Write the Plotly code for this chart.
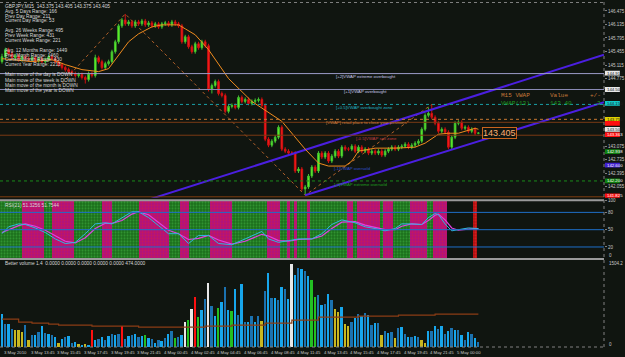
import plotly.graph_objects as go

# ---------------- DATA ----------------
opens = [
145.20, 145.325, 145.50, 145.40, 145.30, 145.35, 145.25, 145.325,
145.275, 145.25, 145.30, 145.225, 145.275, 145.20, 145.25, 145.325,
145.275, 145.20, 145.125, 145.05, 145.00, 144.95, 144.90, 144.85,
144.875, 144.80, 144.75, 144.90, 144.85, 145.30, 145.20, 145.05,
145.15, 145.20, 145.45, 145.70, 146.10, 146.25, 146.15, 146.20,
146.10, 146.20, 146.15, 146.225, 146.125, 146.175, 146.10, 146.15,
146.075, 146.15, 146.175, 146.125, 146.20, 146.15, 146.10, 145.70,
145.825, 145.575, 145.45, 145.65, 145.55, 145.70, 145.60, 144.50,
144.60, 144.70, 144.40, 144.35, 143.95, 144.075, 144.10, 144.05,
144.30, 144.20, 144.25, 144.15, 144.20, 144.225, 144.25, 144.10,
143.25, 143.10, 143.20, 143.30, 143.55, 143.00, 142.95, 142.90,
142.90, 142.45, 142.50, 142.00, 142.05, 142.325, 142.55, 142.45,
142.90, 142.80, 142.90, 142.70, 142.825, 142.95, 142.825, 143.05,
143.00, 143.00, 143.075, 142.95, 143.05, 142.95, 143.00, 142.90,
142.95, 142.90, 142.95, 142.85, 142.95, 143.00, 143.05, 143.00,
143.05, 143.075, 143.125, 143.05, 143.10, 143.15, 143.20, 143.50,
143.85, 143.90, 143.80, 143.65, 143.45, 143.50, 143.425, 143.05,
143.30, 143.65, 143.675, 143.525, 143.55, 143.45, 143.50, 143.40]
closes = [
145.325, 145.50, 145.40, 145.30, 145.35, 145.25, 145.325, 145.275,
145.25, 145.30, 145.225, 145.275, 145.20, 145.25, 145.325, 145.275,
145.20, 145.125, 145.05, 145.00, 144.95, 144.90, 144.85, 144.875,
144.80, 144.75, 144.90, 144.85, 145.30, 145.20, 145.05, 145.15,
145.20, 145.45, 145.70, 146.10, 146.25, 146.15, 146.20, 146.10,
146.20, 146.15, 146.225, 146.125, 146.175, 146.10, 146.15, 146.075,
146.15, 146.175, 146.125, 146.20, 146.15, 146.10, 145.70, 145.825,
145.575, 145.45, 145.65, 145.55, 145.70, 145.60, 144.50, 144.60,
144.70, 144.40, 144.35, 143.95, 144.075, 144.10, 144.05, 144.30,
144.20, 144.25, 144.15, 144.20, 144.225, 144.25, 144.10, 143.25,
143.10, 143.20, 143.30, 143.55, 143.00, 142.95, 142.90, 142.90,
142.45, 142.50, 142.00, 142.05, 142.325, 142.55, 142.45, 142.90,
142.80, 142.90, 142.70, 142.825, 142.95, 142.825, 143.05, 143.00,
143.00, 143.075, 142.95, 143.05, 142.95, 143.00, 142.90, 142.95,
142.90, 142.95, 142.85, 142.95, 143.00, 143.05, 143.00, 143.05,
143.075, 143.125, 143.05, 143.10, 143.15, 143.20, 143.50, 143.85,
143.90, 143.80, 143.65, 143.45, 143.50, 143.425, 143.05, 143.30,
143.65, 143.675, 143.525, 143.55, 143.45, 143.50, 143.40, 143.405]
highs = [
145.40, 145.55, 145.55, 145.45, 145.40, 145.40, 145.375, 145.375,
145.325, 145.35, 145.35, 145.325, 145.325, 145.30, 145.375, 145.375,
145.325, 145.25, 145.175, 145.10, 145.05, 145.00, 144.95, 144.925,
144.925, 144.85, 144.95, 144.95, 145.375, 145.35, 145.25, 145.20,
145.25, 145.50, 145.75, 146.15, 146.30, 146.40, 146.25, 146.25,
146.25, 146.25, 146.275, 146.275, 146.225, 146.225, 146.20, 146.20,
146.20, 146.225, 146.225, 146.25, 146.25, 146.20, 146.15, 145.875,
145.875, 145.625, 145.70, 145.70, 145.75, 145.75, 145.65, 144.65,
144.75, 144.75, 144.45, 144.40, 144.125, 144.15, 144.15, 144.35,
144.35, 144.30, 144.30, 144.25, 144.275, 144.30, 144.30, 144.15,
143.30, 143.25, 143.35, 143.60, 143.60, 143.05, 143.00, 142.95,
142.95, 142.55, 142.55, 142.10, 142.375, 142.60, 142.60, 142.95,
142.95, 142.95, 142.95, 142.875, 143.00, 143.00, 143.10, 143.10,
143.05, 143.125, 143.125, 143.10, 143.10, 143.05, 143.05, 143.00,
143.00, 143.00, 143.00, 143.00, 143.05, 143.10, 143.10, 143.10,
143.125, 143.175, 143.175, 143.15, 143.20, 143.25, 143.55, 143.90,
144.05, 144.125, 143.85, 143.70, 143.55, 143.55, 143.475, 143.35,
143.70, 143.725, 143.725, 143.60, 143.60, 143.55, 143.55, 143.425]
lows = [
145.15, 145.275, 145.35, 145.25, 145.25, 145.20, 145.20, 145.225,
145.20, 145.20, 145.175, 145.175, 145.15, 145.15, 145.20, 145.225,
145.15, 145.075, 145.00, 144.95, 144.90, 144.85, 144.80, 144.80,
144.75, 144.65, 144.70, 144.80, 144.80, 145.15, 145.00, 145.00,
145.10, 145.15, 145.40, 145.65, 146.05, 146.10, 146.10, 146.05,
146.05, 146.10, 146.10, 146.075, 146.075, 146.05, 146.05, 146.025,
146.025, 146.10, 146.075, 146.075, 146.10, 146.05, 145.65, 145.65,
145.525, 145.40, 145.40, 145.50, 145.50, 145.55, 144.45, 144.40,
144.55, 144.35, 144.30, 143.90, 143.90, 144.025, 144.00, 144.00,
144.15, 144.15, 144.10, 144.10, 144.15, 144.175, 144.05, 143.20,
143.05, 143.05, 143.15, 143.25, 142.95, 142.90, 142.85, 142.85,
142.40, 142.40, 141.95, 141.84, 142.00, 142.275, 142.40, 142.40,
142.75, 142.75, 142.65, 142.65, 142.775, 142.775, 142.775, 142.95,
142.95, 142.95, 142.90, 142.90, 142.90, 142.90, 142.85, 142.85,
142.85, 142.85, 142.80, 142.80, 142.90, 142.95, 142.95, 142.95,
143.00, 143.025, 143.00, 143.00, 143.05, 143.10, 143.15, 143.45,
143.80, 143.75, 143.60, 143.40, 143.40, 143.375, 143.00, 143.00,
143.25, 143.60, 143.475, 143.475, 143.40, 143.40, 143.35, 143.375]
volume = [
584, 407, 407, 319, 301, 301, 265, 389,
124, 212, 212, 265, 372, 248, 230, 212,
177, 71, 142, 177, 195, 71, 89, 53,
35, 53, 35, 301, 124, 142, 177, 124,
195, 230, 212, 230, 372, 142, 195, 212,
230, 177, 195, 212, 159, 142, 71, 124,
106, 159, 230, 283, 159, 177, 212, 442,
478, 673, 885, 531, 655, 850, 1115, 726,
549, 690, 797, 1044, 655, 637, 1009, 566,
1097, 442, 442, 549, 442, 549, 460, 991,
1292, 867, 867, 832, 1044, 1009, 850, 1451,
1257, 1381, 1363, 1328, 1239, 1168, 885, 920,
743, 761, 938, 832, 673, 620, 708, 407,
372, 442, 513, 584, 549, 602, 566, 389,
425, 425, 212, 283, 248, 265, 159, 336,
354, 230, 177, 177, 195, 177, 124, 71,
283, 283, 372, 319, 372, 230, 283, 336,
301, 301, 212, 124, 265, 230, 159, 89]
vol_type = ("bdbdyyyd" "ydbdbdbd" "bybdbdby" "bybrbdbd" "bdbdrdbd" "bdbgbdbd"
            "bdbdgdbw" "gwrgbdwd" "bgbdbgbd" "bdbdbdyd" "bdbdbdbw" "bdbdbggd"
            "bdbdyyby" "ydbdbdbd" "bdydbdyd" "bdbdbdyy" "bdbdbdbd" "bdbdbdbd")

ma_idx = [0, 9, 15, 19, 24, 29, 32, 34, 36, 38, 41, 45, 48, 53, 55, 58, 62, 68, 75, 84,
          91, 95, 98, 103, 105, 107, 112, 118, 124, 127, 131, 134, 137, 142, 143]
ma_val = [145.275, 145.20, 145.25, 145.125, 145.00, 144.95, 145.025, 145.25, 145.50, 145.70,
          145.90, 146.075, 146.125, 146.125, 146.025, 145.875, 145.50, 144.775, 144.20, 143.70,
          143.00, 142.65, 142.575, 142.575, 142.70, 142.95, 143.025, 143.025, 143.05, 143.15,
          143.375, 143.40, 143.40, 143.525, 143.50]

zz_idx = [18, 37, 91, 129]
zz_val = [144.65, 146.40, 141.84, 144.125]

ch_up_idx = [44, 180.7]
ch_up_val = [141.73, 145.375]
ch_lo_idx = [91, 180.7]
ch_lo_val = [141.84, 144.18]

level_price = [144.90, 144.50, 144.125, 143.75, 143.675, 143.35, 142.20, 141.80]
box_price = [144.9125, 144.50, 144.15, 143.75, 143.65, 143.50, 143.3625, 142.9375, 142.60, 142.20, 141.825]
box_label = [True, True, True, True, False, True, True, True, True, True, True]

price_ticks = ["146.475", "146.135", "145.795", "145.455", "145.115", "144.775",
               "143.075", "142.735", "142.395", "142.055"]
osc_ticks = [20, 50, 80, 100]

osc_idx = [0, 2, 5, 7, 10, 13, 16, 19, 22, 25, 28, 31, 33, 36, 39, 41, 44, 47, 50, 53,
           56, 59, 62, 65, 69, 73, 78, 80, 83, 86, 89, 93, 96, 99, 102, 106, 109, 112, 115, 118,
           120, 123, 126, 128, 130, 131, 133, 135, 137, 140, 143]
osc_val = [43, 55, 60, 59, 53, 45, 34, 26, 28, 43, 60, 62, 60, 71, 81, 81, 71, 57, 43, 43,
           26, 40, 40, 26, 24, 34, 47, 34, 28, 31, 34, 34, 43, 59, 67, 62, 55, 52, 48, 52,
           60, 60, 59, 71, 78, 76, 60, 48, 50, 53, 52]
sig_val = [45, 50, 57, 60, 56, 49, 40, 30, 27, 36, 52, 61, 61, 66, 77, 81, 76, 63, 49, 43,
           33, 35, 40, 32, 25, 30, 42, 39, 31, 30, 33, 34, 39, 52, 63, 64, 58, 54, 50, 50,
           56, 60, 59, 66, 75, 77, 67, 53, 49, 51, 52]
osc_levels = [80, 50, 20]

band_start = [-0.5, 6, 12.5, 15, 21.5, 30, 33, 41, 50, 53.5, 56, 62.5, 69, 79.5, 83.5, 85.5,
              86.5, 87.5, 88.5, 91.5, 92.5, 103.5, 105.5, 106.5, 113.5, 114.5, 117.5, 122.5,
              127.5, 129.5, 141.5]
band_end = [6, 12.5, 15, 21.5, 30, 33, 41, 50, 53.5, 56, 62.5, 69, 79.5, 83.5, 85.5, 86.5,
            87.5, 88.5, 91.5, 92.5, 103.5, 105.5, 106.5, 113.5, 114.5, 117.5, 122.5, 127.5,
            129.5, 133.5, 142.5]
band_type = "gm" * 15 + "r"

avg_idx = [0, 5, 9, 14, 17, 27, 36, 41, 55, 61, 69, 79, 87, 95, 99, 107, 119, 130, 143]
avg_val = [484, 432, 415, 398, 380, 363, 363, 346, 346, 363, 380, 415, 467, 519, 519, 536, 553, 571, 571]

time_labels = ["3 May 2010", "3 May 13:45", "3 May 15:45", "3 May 17:45", "3 May 19:45",
               "3 May 21:45", "4 May 00:45", "4 May 02:45", "4 May 04:45", "4 May 06:45",
               "4 May 08:45", "4 May 11:45", "4 May 13:45", "4 May 15:45", "4 May 17:45",
               "4 May 19:45", "4 May 21:45", "5 May 00:00"]

info_lines = ["GBPJPY,M15  143.375 143.405 143.375 143.405", "Avg. 5 Days Range: 166",
              "Prev Day Range: 211", "Current Day Range: 53", "Avg. 26 Weeks Range: 495",
              "Prev Week Range: 431", "Current Week Range: 221", "Avg. 12 Months Range: 1449",
              "Prev Month Range: 1460", "Current Month Range: 430", "Current Year Range: 2213",
              "Main move of the day is DOWN", "Main move of the week is DOWN",
              "Main move of the month is DOWN", "Main move of the year is DOWN"]

# ---------------- LAYOUT GEOMETRY ----------------
W, H = 625, 357
MR, MB = 16, 10
PW, PH = W - MR, H - MB
BG = "#101510"


def xp(p):
    return p / PW


def yp(p):
    return 1 - p / PH


idx = list(range(len(closes)))
fig = go.Figure()

# oscillator bands
for kind, bg, fg in [("g", "#1c6e1c", "#48c048"), ("m", "#b0127e", "#e02030"), ("r", "#b01010", "#ff3030")]:
    xs = [(a + b) / 2 for a, b, t in zip(band_start, band_end, band_type) if t == kind]
    ws = [(b - a) for a, b, t in zip(band_start, band_end, band_type) if t == kind]
    fig.add_trace(go.Bar(x=xs, y=[100] * len(xs), width=ws, xaxis="x", yaxis="y2",
                         marker=dict(color=bg, line=dict(width=0),
                                     pattern=dict(shape=".", fgcolor=fg, fillmode="overlay",
                                                  size=3, solidity=0.35))))
fig.add_trace(go.Scatter(x=osc_idx, y=sig_val, mode="lines", xaxis="x", yaxis="y2",
                         line=dict(color="#e040e0", width=1.2)))
fig.add_trace(go.Scatter(x=osc_idx, y=osc_val, mode="lines", xaxis="x", yaxis="y2",
                         line=dict(color="#30b8e0", width=1)))

# volume
vcol = {"b": "#17a6ec", "d": "#1b72b0", "y": "#c8b820", "g": "#22c022", "r": "#ff1010", "w": "#e8e8e8"}
fig.add_trace(go.Bar(x=idx, y=volume, width=0.55, xaxis="x", yaxis="y3",
                     marker=dict(color=[vcol[t] for t in vol_type], line=dict(width=0))))
fig.add_trace(go.Scatter(x=avg_idx, y=avg_val, mode="lines", xaxis="x", yaxis="y3",
                         line=dict(color="#8a3c14", width=1.2, shape="hv")))

# main price panel
fig.add_trace(go.Scatter(x=zz_idx, y=zz_val, mode="lines", xaxis="x", yaxis="y",
                         line=dict(color="#b0602a", width=1, dash="dot")))
fig.add_trace(go.Scatter(x=ch_up_idx, y=ch_up_val, mode="lines", xaxis="x", yaxis="y",
                         line=dict(color="#4b1fe0", width=2)))
fig.add_trace(go.Scatter(x=ch_lo_idx, y=ch_lo_val, mode="lines", xaxis="x", yaxis="y",
                         line=dict(color="#4b1fe0", width=2)))
fig.add_trace(go.Candlestick(x=idx, open=opens, high=highs, low=lows, close=closes,
                             xaxis="x", yaxis="y", whiskerwidth=0,
                             increasing=dict(line=dict(color="#40c030", width=1), fillcolor="#6cff20"),
                             decreasing=dict(line=dict(color="#d01010", width=1), fillcolor="#ff2020")))
fig.add_trace(go.Scatter(x=ma_idx, y=ma_val, mode="lines", xaxis="x", yaxis="y",
                         line=dict(color="#f08c1e", width=1)))

shapes = []
level_style = [("#9c9cc8", "solid"), ("#8c8cb8", "solid"), ("#1aa0a8", "dot"), ("#c87a30", "dot"),
               ("#7a3a14", "solid"), ("#7a3a14", "solid"), ("#1a8a1a", "dot"), ("#8a4010", "solid")]
for pr, (c, d) in zip(level_price, level_style):
    shapes.append(dict(type="line", xref="paper", yref="y", x0=0, x1=1, y0=pr, y1=pr,
                       line=dict(color=c, width=1, dash=d)))
for lv in osc_levels:
    shapes.append(dict(type="line", xref="paper", yref="y2", x0=0, x1=1, y0=lv, y1=lv,
                       line=dict(color="#1e6fc8", width=1)))
# panel frames
for y0 in (199.5, 258.5):
    shapes.append(dict(type="line", xref="paper", yref="paper", x0=0, x1=1, y0=yp(y0), y1=yp(y0),
                       line=dict(color="#9a9a9a", width=2)))
shapes.append(dict(type="line", xref="paper", yref="paper", x0=0, x1=1, y0=yp(0.5), y1=yp(0.5),
                   line=dict(color="#808080", width=1, dash="dot")))
shapes.append(dict(type="line", xref="paper", yref="paper", x0=0, x1=1, y0=0, y1=0,
                   line=dict(color="#808080", width=1, dash="dot")))
shapes.append(dict(type="line", xref="paper", yref="paper", x0=1, x1=1, y0=0, y1=1,
                   line=dict(color="#808080", width=1, dash="dot")))

# right-axis price boxes
box_style = [("#e8e8e8", "#202020"), ("#e8e8e8", "#202020"), ("#10c8c8", "#202020"), ("#e0d000", "#202020"),
             ("#ff1010", "#ffffff"), ("#e8e8e8", "#202020"), ("#ff1010", "#ffffff"), ("#108010", "#ffffff"),
             ("#4020d0", "#ffffff"), ("#108010", "#ffffff"), ("#ff1010", "#ffffff")]
BOXH = 0.06  # price units (~2.4 px half-height)
for pr, (bgc, fc) in zip(box_price, box_style):
    shapes.append(dict(type="rect", xref="paper", yref="y", x0=1.0015, x1=1 + 16 / PW,
                       y0=pr - BOXH, y1=pr + BOXH, fillcolor=bgc, line=dict(width=0), layer="above"))

ann = []
F = "Liberation Sans"
for pr, (bgc, fc), lab in zip(box_price, box_style, box_label):
    if lab:
        ann.append(dict(text="%.3f" % pr, xref="paper", yref="y", x=1 + 1 / PW, y=pr, xanchor="left",
                        yanchor="middle", showarrow=False, font=dict(family=F, size=4.3, color=fc)))

line_y = [4.7, 9.5, 14.2, 19, 28.7, 33.7, 38.7, 48.7, 53.5, 58.3, 63.3, 73.3, 79, 84.3, 89.3]
for t, ly in zip(info_lines, line_y):
    ann.append(dict(text=t, xref="paper", yref="paper", x=xp(3), y=yp(ly), xanchor="left",
                    yanchor="middle", showarrow=False, font=dict(family=F, size=4.8, color="#d8d8d8")))

lvl_text = [("[+2]VWAP extreme overbought", 337, 74.5, "#c8c8e8"),
            ("[+1]VWAP overbought", 345, 90.5, "#c8c8e8"),
            ("[+0.5]VWAP overbought zone", 337, 106, "#20b0c0"),
            ("[VWAP] retail place to close your positions", 327, 121.5, "#d08040"),
            ("[-0.5]VWAP sell zone", 357, 137.5, "#c04040"),
            ("[-1]VWAP oversold", 335, 167.5, "#3050d0"),
            ("[-2]VWAP extreme oversold", 335, 183.5, "#20a020")]
for t, x0, y0, c in lvl_text:
    ann.append(dict(text=t, xref="paper", yref="paper", x=xp(x0), y=yp(y0), xanchor="left",
                    yanchor="middle", showarrow=False, font=dict(family=F, size=4.3, color=c)))

M = "Liberation Mono"
for t, x0, y0, c in [("M15 VWAP", 503, 94, "#c87a3a"), ("Value", 553, 94, "#c87a3a"), ("+/-", 593, 94, "#c87a3a"),
                     ("VWAP(13)", 503, 102, "#1e9a1e"), ("143.40", 553, 102, "#1e9a1e"), ("3", 600, 102, "#1e9a1e")]:
    ann.append(dict(text=t, xref="paper", yref="paper", x=xp(x0), y=yp(y0), xanchor="left",
                    yanchor="middle", showarrow=False, font=dict(family=M, size=6, color=c)))

ann.append(dict(text="143.405", xref="paper", yref="y", x=xp(486), y=closes[-1], xanchor="left",
                yanchor="middle", showarrow=False, bordercolor="#c8641e", borderwidth=1, borderpad=0,
                bgcolor=BG, font=dict(family=F, size=9, color="#ffb070")))

ann.append(dict(text="RSI(21) 51.3256 51.7544", xref="paper", yref="paper", x=xp(3), y=yp(204.5),
                xanchor="left", yanchor="middle", showarrow=False, font=dict(family=F, size=4.8, color="#d8d8d8")))
ann.append(dict(text="Better volume 1.4  0.0000 0.0000 0.0000 0.0000 0.0000 474.0000", xref="paper",
                yref="paper", x=xp(3), y=yp(263), xanchor="left", yanchor="middle", showarrow=False,
                font=dict(family=F, size=4.8, color="#d8d8d8")))

# right-side scale labels for the two lower panes
for t, y0 in [("0", 255), ("1504.2", 263.5), ("0", 344.5)]:
    ann.append(dict(text=t, xref="paper", yref="paper", x=1 + 3 / PW, y=yp(y0), xanchor="left",
                    yanchor="middle", showarrow=False, font=dict(family=F, size=4.5, color="#c8c8c8")))

for k, lab in enumerate(time_labels):
    ann.append(dict(text=lab, xref="x", yref="paper", x=8 * k, y=0, xanchor="left", yanchor="top",
                    yshift=-1, showarrow=False, font=dict(family=F, size=4.3, color="#c8c8c8")))

fig.update_layout(
    width=W, height=H, margin=dict(l=0, r=MR, t=0, b=MB, pad=0),
    paper_bgcolor=BG, plot_bgcolor=BG, showlegend=False, barmode="overlay", bargap=0,
    hovermode=False, shapes=shapes, annotations=ann,
    xaxis=dict(domain=[0, 1], range=[-0.6, 180.7], anchor="y3", visible=False,
               rangeslider=dict(visible=False), showgrid=False, zeroline=False),
    yaxis=dict(domain=[yp(197), 1], range=[141.775, 146.70], side="right", anchor="x",
               tickvals=[float(t) for t in price_ticks], ticktext=price_ticks,
               tickfont=dict(family=F, size=4.5, color="#c8c8c8"), ticks="outside", ticklen=2,
               tickcolor="#808080", showgrid=False, zeroline=False, showline=False),
    yaxis2=dict(domain=[yp(258), yp(200)], range=[0, 100], side="right", anchor="x",
                tickvals=osc_ticks, tickfont=dict(family=F, size=4.5, color="#c8c8c8"),
                ticks="outside", ticklen=2, tickcolor="#808080", showgrid=False, zeroline=False),
    yaxis3=dict(domain=[0, yp(260)], range=[0, 1504.2], side="right", anchor="x",
                showticklabels=False, ticks="", showgrid=False, zeroline=False),
)

fig.write_html("out.html")
